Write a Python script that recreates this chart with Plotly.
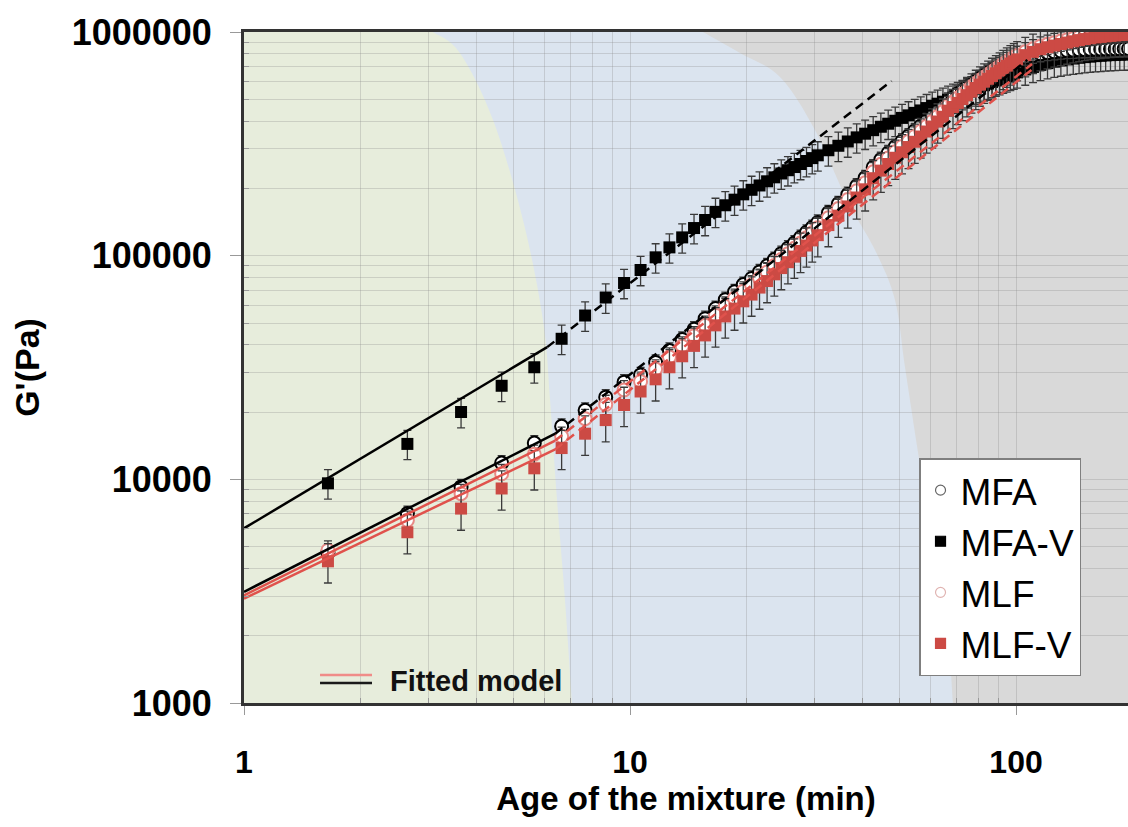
import plotly.graph_objects as go

# ---------------- data ----------------
t = [1.65, 2.65, 3.65, 4.65, 5.65, 6.65, 7.65, 8.65, 9.65, 10.65,
     11.65, 12.65, 13.65, 14.65, 15.65, 16.65, 17.65, 18.65, 19.65, 20.65,
     21.65, 22.65, 23.65, 24.65, 25.65, 26.65, 27.65, 28.65, 29.65, 30.65,
     32.65, 34.65, 36.65, 38.65, 40.65, 42.65, 44.65, 46.65, 48.65, 50.65,
     52.65, 54.65, 56.65, 58.65, 60.65, 62.65, 64.65, 66.65, 68.65, 70.65,
     72.65, 74.65, 76.65, 78.65, 80.65, 82.65, 84.65, 86.65, 88.65, 90.65,
     92.65, 94.65, 96.65, 98.65, 100.65,
     105.65, 110.65, 115.65, 120.65, 125.65, 130.65, 135.65, 140.65, 145.65, 150.65,
     155.65, 160.65, 165.65, 170.65, 175.65, 180.65, 185.65, 190.65, 195.65]

mfa = [4700, 7030, 9250, 11830, 14530, 17250, 20350, 23300, 27200, 29300,
       33300, 37700, 42200, 46900, 52300, 58000, 63600, 68900, 74300, 79100,
       84600, 90100, 96100, 102100, 108000, 113900, 120500, 127100, 133600, 140800,
       155500, 170600, 187600, 204800, 222800, 248600, 268800, 287800, 306900, 324800,
       342700, 361800, 380200, 400300, 419600, 441800, 464000, 489500, 508000, 530000,
       547000, 566000, 585000, 604000, 623000, 640000, 656000, 671000, 686000, 700000,
       713000, 725000, 736000, 746000, 755000,
       773000, 788000, 800000, 809000, 816000, 822000, 826000, 829000, 832000, 834000,
       836000, 837000, 838000, 839000, 840000, 840000, 841000, 841000, 842000]

mfa_v = [9600, 14400, 20000, 26200, 31700, 42500, 54000, 65000, 75500, 86300,
         98300, 108900, 120700, 132900, 144400, 157000, 168000, 178000, 188000, 197000,
         206000, 215000, 224000, 233000, 241000, 249000, 257000, 265000, 273000, 281000,
         296000, 310000, 324000, 338000, 351000, 364000, 377000, 389000, 401000, 413000,
         424000, 435000, 446000, 457000, 468000, 478000, 488000, 498000, 508000, 518000,
         528000, 538000, 548000, 558000, 568000, 578000, 588000, 598000, 607000, 616000,
         625000, 634000, 643000, 652000, 660000,
         680000, 698000, 713000, 726000, 737000, 746000, 754000, 761000, 767000, 772000,
         776000, 780000, 783000, 786000, 788000, 790000, 792000, 793000, 795000]

mlf = [4820, 6560, 8630, 10590, 12940, 15570, 18680, 21600, 25100, 27400,
       31100, 35200, 39400, 43800, 48800, 54200, 59400, 64400, 69400, 74000,
       79200, 84500, 90400, 96200, 102000, 107800, 114000, 120300, 126600, 133400,
       147600, 162400, 178200, 195000, 211800, 237000, 256000, 273500, 291200, 307700,
       324400, 342000, 360800, 379500, 399300, 420000, 440800, 468800, 486300, 507000,
       527500, 548000, 568500, 589000, 609300, 627600, 646000, 664300, 682600, 700900,
       719000, 736500, 753700, 770000, 785000,
       815000, 841000, 864000, 881000, 896000, 911000, 924000, 936000, 948000, 958000,
       966000, 973000, 979000, 985000, 990000, 994000, 998000, 1001000, 1004000]

mlf_v = [4300, 5800, 7400, 9100, 11200, 13800, 16000, 18400, 21500, 24700,
         28000, 31700, 35500, 39500, 44000, 48800, 53500, 58000, 62500, 67000,
         72000, 77000, 82500, 88000, 93500, 99000, 105000, 111000, 117000, 123500,
         137000, 151000, 166000, 182000, 198000, 222000, 240000, 257000, 274000, 290000,
         306000, 323000, 341000, 359000, 378000, 398000, 418000, 445000, 462000, 482000,
         502000, 522000, 542000, 562000, 582000, 600000, 618000, 636000, 654000, 672000,
         690000, 707000, 724000, 740000, 755000,
         788000, 815000, 838000, 855000, 870000, 884000, 897000, 909000, 920000, 930000,
         938000, 945000, 951000, 956000, 961000, 965000, 969000, 972000, 975000]

# relative error (%)
err_mfa, err_mfa_v, err_mlf, err_mlf_v = 8, 15, 10, 20

# fitted model (solid, stage 1) and extrapolation (dashed, stage 2)
fit1_t = {"MFA": [1, 6.4], "MFA-V": [1, 6.1], "MLF": [1, 6.4], "MLF-V": [1, 6.4]}
fit1_g = {"MFA": [3140, 16000], "MFA-V": [6040, 39000], "MLF": [3030, 14900], "MLF-V": [2930, 13600]}
fit2_t = {"MFA": [6.4, 107], "MFA-V": [6.1, 47.6], "MLF": [6.4, 110], "MLF-V": [6.4, 110]}
fit2_g = {"MFA": [16000, 750000], "MFA-V": [39000, 604000], "MLF": [14900, 720000], "MLF-V": [13600, 680000]}

x_ticks = [1, 10, 100]
y_ticks = [1000, 10000, 100000, 1000000]
x_minor = [2, 3, 4, 5, 6, 7, 8, 9, 20, 30, 40, 50, 60, 70, 80, 90, 200]
y_minor = [2000, 3000, 4000, 5000, 6000, 7000, 8000, 9000,
           20000, 30000, 40000, 50000, 60000, 70000, 80000, 90000,
           200000, 300000, 400000, 500000, 600000, 700000, 800000, 900000]

# ---------------- styling ----------------
BLACK = "#000000"
RED = "#cc4a44"
RED_LINE = "#e0524c"
PINK = "#e88a86"
BAR = "#3a3a3a"

fig = go.Figure()

def eb(v):
    return dict(type="percent", value=v, color=BAR, thickness=1.3, width=4)

fig.add_trace(go.Scatter(x=t, y=mfa_v, mode="markers", showlegend=False,
                         marker=dict(symbol="square", size=12, color=BLACK),
                         error_y=eb(err_mfa_v)))
fig.add_trace(go.Scatter(x=t, y=mfa, mode="markers", showlegend=False,
                         marker=dict(symbol="circle", size=13, color="white",
                                     line=dict(color=BLACK, width=2)),
                         error_y=eb(err_mfa)))
fig.add_trace(go.Scatter(x=t, y=mlf, mode="markers", showlegend=False,
                         marker=dict(symbol="circle", size=13, color="white",
                                     line=dict(color=PINK, width=2)),
                         error_y=eb(err_mlf)))
fig.add_trace(go.Scatter(x=t, y=mlf_v, mode="markers", showlegend=False,
                         marker=dict(symbol="square", size=12, color=RED),
                         error_y=eb(err_mlf_v)))

line_col = {"MFA": BLACK, "MFA-V": BLACK, "MLF": RED_LINE, "MLF-V": RED_LINE}
for k in ["MLF-V", "MLF", "MFA", "MFA-V"]:
    fig.add_trace(go.Scatter(x=fit1_t[k], y=fit1_g[k], mode="lines", showlegend=False,
                             line=dict(color=line_col[k], width=2.5)))
for k in ["MLF-V", "MLF", "MFA", "MFA-V"]:
    fig.add_trace(go.Scatter(x=fit2_t[k], y=fit2_g[k], mode="lines", showlegend=False,
                             line=dict(color=line_col[k], width=2.5, dash="9px,6px")))

# legend entries
leg = [("MFA", "circle", "white", "#666666"),
       ("MFA-V", "square", BLACK, BLACK),
       ("MLF", "circle", "white", "#e0b4b2"),
       ("MLF-V", "square", RED, RED)]
for name, sym, fc, lc in leg:
    fig.add_trace(go.Scatter(x=[None], y=[None], mode="markers", name=name,
                             marker=dict(symbol=sym, size=10, color=fc,
                                         line=dict(color=lc, width=1.2))))

# background zones (paper coords), smoothed with Catmull-Rom curves
green_pts = [(0.2138, 1.0), (0.2443, 0.9687), (0.2817, 0.8689), (0.3156, 0.7198),
             (0.3382, 0.5708), (0.3462, 0.4516), (0.3541, 0.3025), (0.3631, 0.1535),
             (0.3710, 0.0)]
blue_pts = [(0.5192, 1.0), (0.5611, 0.9687), (0.6063, 0.9329), (0.6459, 0.8539),
            (0.6821, 0.7496), (0.7138, 0.6751), (0.7364, 0.6006), (0.7477, 0.5007),
            (0.7590, 0.4024), (0.7704, 0.3025), (0.7760, 0.2027), (0.7952, 0.1043),
            (0.8020, 0.0)]

def zone_path(pts):
    s = f"M 0,0 L 0,1 L {pts[0][0]},{pts[0][1]}"
    n = len(pts)
    for i in range(n - 1):
        p0 = pts[i - 1] if i > 0 else pts[i]
        p1 = pts[i]
        p2 = pts[i + 1]
        p3 = pts[i + 2] if i + 2 < n else pts[i + 1]
        c1 = (p1[0] + (p2[0] - p0[0]) / 6, p1[1] + (p2[1] - p0[1]) / 6)
        c2 = (p2[0] - (p3[0] - p1[0]) / 6, p2[1] - (p3[1] - p1[1]) / 6)
        s += f" C {c1[0]:.4f},{c1[1]:.4f} {c2[0]:.4f},{c2[1]:.4f} {p2[0]},{p2[1]}"
    return s + " Z"

shapes = [
    dict(type="path", xref="paper", yref="paper", path=zone_path(blue_pts),
         fillcolor="#dbe4ef", line=dict(width=0), layer="below"),
    dict(type="path", xref="paper", yref="paper", path=zone_path(green_pts),
         fillcolor="#e7eddc", line=dict(width=0), layer="below"),
    # fitted-model key
    dict(type="line", xref="paper", yref="paper", x0=0.086, x1=0.1448, y0=0.0417, y1=0.0417,
         line=dict(color="#f08c88", width=2.5)),
    dict(type="line", xref="paper", yref="paper", x0=0.086, x1=0.1448, y0=0.0298, y1=0.0298,
         line=dict(color="#1a1a1a", width=2.5)),
]

fig.update_layout(
    width=1128, height=827,
    margin=dict(l=244, r=0, t=32, b=124),
    paper_bgcolor="white", plot_bgcolor="#d9d9d9",
    shapes=shapes,
    showlegend=True,
    legend=dict(x=0.7636, y=0.365, xanchor="left", yanchor="top",
                bgcolor="white", bordercolor="#7f7f7f", borderwidth=1.5,
                font=dict(family="Liberation Sans, Arial, sans-serif", size=37, color="black"),
                itemsizing="trace", tracegroupgap=0),
    annotations=[dict(text="Fitted model", xref="paper", yref="paper", x=0.163, y=0.0328,
                      xanchor="left", yanchor="middle", showarrow=False,
                      font=dict(family="Liberation Sans, Arial, sans-serif", size=29,
                                color="#111111", weight="bold"))],
)

grid = "rgba(140,140,140,0.30)"
fig.update_xaxes(
    type="log", range=[0, 2.29],
    tickmode="array", tickvals=x_ticks, ticktext=[str(v) for v in x_ticks],
    ticks="outside", ticklen=9, tickwidth=1, tickcolor="#999999",
    ticklabelstandoff=20,
    tickfont=dict(family="Liberation Sans, Arial, sans-serif",
                  size=32, color="black", weight="bold"),
    showgrid=True, gridcolor=grid, gridwidth=1,
    minor=dict(tickmode="array", tickvals=x_minor, ticks="inside", ticklen=5,
               tickcolor="#999999", showgrid=True, gridcolor=grid, gridwidth=1),
    showline=True, linecolor="#333333", linewidth=3, mirror=True,
    title=dict(text="Age of the mixture (min)", standoff=6,
               font=dict(family="Liberation Sans, Arial, sans-serif",
                         size=33, color="black", weight="bold")),
    zeroline=False,
)
fig.update_yaxes(
    type="log", range=[3, 6],
    tickmode="array", tickvals=y_ticks, ticktext=[str(v) for v in y_ticks],
    ticks="outside", ticklen=11, tickwidth=1, tickcolor="#999999",
    ticklabelstandoff=11,
    tickfont=dict(family="Liberation Sans, Arial, sans-serif", size=36, color="black",
                  weight="bold"),
    showgrid=True, gridcolor=grid, gridwidth=1,
    minor=dict(tickmode="array", tickvals=y_minor, ticks="inside", ticklen=5,
               tickcolor="#999999", showgrid=True, gridcolor=grid, gridwidth=1),
    showline=True, linecolor="#333333", linewidth=3, mirror=False,
    title=dict(text="G'(Pa)", standoff=22,
               font=dict(family="Liberation Sans, Arial, sans-serif", size=34,
                         color="black", weight="bold")),
    zeroline=False,
)

fig.write_html("out.html", config={"displayModeBar": False},
               post_script="document.body.style.margin='0';")
